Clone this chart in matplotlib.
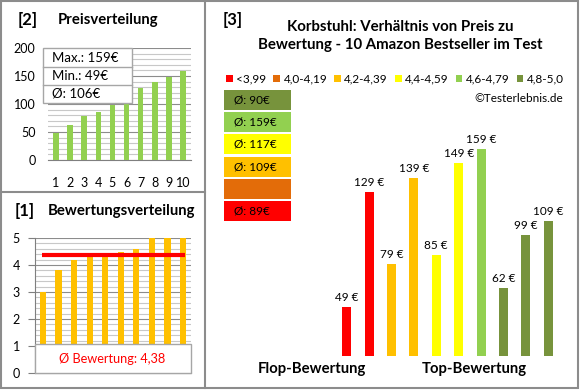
import matplotlib
matplotlib.use("Agg")
import matplotlib.pyplot as plt
from matplotlib.patches import Rectangle
from matplotlib.lines import Line2D

plt.rcParams['font.family'] = ['Lato', 'DejaVu Sans']

# ── Data ─────────────────────────────────────────────────────────────────────
price_rank = [1, 2, 3, 4, 5, 6, 7, 8, 9, 10]
prices_sorted = [49, 62, 79, 85, 99, 109, 129, 139, 149, 159]
ratings_sorted = [3.0, 3.8, 4.2, 4.3, 4.4, 4.5, 4.6, 5.0, 5.0, 5.0]
rating_avg = 4.38
info_lines = ["Max.: 159€", "Min.: 49€", "Ø: 106€"]

prod_prices = [49, 129, 79, 139, 85, 149, 159, 62, 99, 109]
prod_colors = ['#FF0000', '#FF0000', '#FFC000', '#FFC000', '#FFFF00',
               '#FFFF00', '#92D050', '#77933C', '#77933C', '#77933C']

legend_labels = ['<3,99', '4,0-4,19', '4,2-4,39', '4,4-4,59', '4,6-4,79', '4,8-5,0']
legend_colors = ['#FF0000', '#E36C09', '#FFC000', '#FFFF00', '#92D050', '#77933C']

avg_labels = ['Ø: 90€', 'Ø: 159€', 'Ø: 117€', 'Ø: 109€', '', 'Ø: 89€']
avg_colors = ['#77933C', '#92D050', '#FFFF00', '#FFC000', '#E36C09', '#FF0000']

W, H = 580, 390
BORDER = '#8C8C8C'
GRID_MAJ = '#8C8C8C'
GRID_MIN = '#C8C8C8'

fig = plt.figure(figsize=(W / 100, H / 100), dpi=100)


def px_axes(x0, y0, x1, y1):
    """axes from pixel box (top-left origin)"""
    return fig.add_axes([x0 / W, 1 - y1 / H, (x1 - x0) / W, (y1 - y0) / H])


def fx(x):
    return x / W


def fy(y):
    return 1 - y / H


# ── Panel frames ─────────────────────────────────────────────────────────────
fig.add_artist(Rectangle((fx(1), fy(388)), fx(577), fy(1) - fy(388), fill=False,
                         ec=BORDER, lw=1.5, transform=fig.transFigure))
fig.add_artist(Line2D([fx(205), fx(205)], [fy(1), fy(388)], color=BORDER, lw=1.5))
fig.add_artist(Line2D([fx(1), fx(205)], [fy(192), fy(192)], color=BORDER, lw=1.5))

# ── [2] Preisverteilung ──────────────────────────────────────────────────────
ax1 = px_axes(48, 48, 191, 160)
ax1.bar(price_rank, prices_sorted, width=0.4, color='#92D050', zorder=3)
ax1.set_xlim(0.43, 10.57)
ax1.set_ylim(0, 200)
ax1.set_yticks(range(0, 201, 50))
ax1.set_yticks(range(0, 201, 10), minor=True)
ax1.set_xticks(price_rank)
ax1.grid(axis='y', which='major', color=GRID_MAJ, lw=0.8, zorder=0)
ax1.grid(axis='y', which='minor', color=GRID_MIN, lw=0.8, zorder=0)
for s in ['top', 'right', 'left']:
    ax1.spines[s].set_visible(False)
ax1.spines['bottom'].set_color('#7F7F7F')
ax1.tick_params(axis='both', which='both', length=0, labelsize=9)
ax1.tick_params(axis='y', pad=9)
ax1.tick_params(axis='x', pad=12)

fig.text(fx(18), fy(20), '[2]', fontsize=12, fontweight='bold', va='center')
fig.text(fx(58), fy(20), 'Preisverteilung', fontsize=10.7, fontweight='bold', va='center')

# info box
fig.add_artist(Rectangle((fx(43), fy(103)), fx(132) - fx(43), fy(48) - fy(103),
                         fc='white', ec='#A6A6A6', lw=1, transform=fig.transFigure, zorder=5))
for yy in (67, 85):
    fig.add_artist(Line2D([fx(43), fx(132)], [fy(yy), fy(yy)], color='#A6A6A6', lw=1, zorder=6))
for i, t in enumerate(info_lines):
    fig.text(fx(52), fy(58 + i * 18), t, fontsize=9.5, va='center', zorder=7)

# ── [1] Bewertungsverteilung ─────────────────────────────────────────────────
ax2 = px_axes(35, 238, 191, 373)
ax2.bar(price_rank, ratings_sorted, width=0.4, color='#FFC000', zorder=3)
ax2.hlines(rating_avg, 0.95, 10.15, color='#FF0000', lw=3, zorder=4)
ax2.set_xlim(0.49, 10.51)
ax2.set_ylim(0, 5)
ax2.set_yticks(range(0, 6))
ax2.set_yticks([i * 0.2 for i in range(26)], minor=True)
ax2.set_xticks([])
ax2.grid(axis='y', which='major', color=GRID_MAJ, lw=0.8, zorder=0)
ax2.grid(axis='y', which='minor', color=GRID_MIN, lw=0.8, zorder=0)
for s in ['top', 'right']:
    ax2.spines[s].set_visible(False)
ax2.spines['bottom'].set_color('#7F7F7F')
ax2.spines['left'].set_color('#7F7F7F')
ax2.tick_params(axis='y', which='major', length=5, color='#7F7F7F', labelsize=9, pad=6)
ax2.tick_params(axis='y', which='minor', length=0)

fig.text(fx(15), fy(211), '[1]', fontsize=12, fontweight='bold', va='center')
fig.text(fx(48), fy(211), 'Bewertungsverteilung', fontsize=10.7, fontweight='bold', va='center')

fig.add_artist(Rectangle((fx(35), fy(373)), fx(191) - fx(35), fy(344) - fy(373),
                         fc='white', ec='#A6A6A6', lw=1, transform=fig.transFigure, zorder=5))
fig.text(fx(112), fy(359), 'Ø Bewertung: ' + f'{rating_avg:.2f}'.replace('.', ','),
         fontsize=9.2, color='#FF0000', ha='center', va='center', zorder=7)

# ── [3] Preis vs Bewertung ───────────────────────────────────────────────────
fig.text(fx(223), fy(20), '[3]', fontsize=12, fontweight='bold', va='center')
fig.text(fx(400), fy(36), 'Korbstuhl: Verhältnis von Preis zu\nBewertung - 10 Amazon Bestseller im Test',
         fontsize=10.8, fontweight='bold', ha='center', va='center', linespacing=1.35)

handles = [Rectangle((0, 0), 1, 1, fc=c, ec='none') for c in legend_colors]
fig.legend(handles, legend_labels, loc='center', bbox_to_anchor=(fx(395), fy(79)),
           ncol=6, frameon=False, fontsize=8.5, handlelength=0.55, handleheight=0.55,
           handletextpad=0.3, columnspacing=0.6, borderaxespad=0, borderpad=0)

fig.text(fx(563), fy(98), '©Testerlebnis.de', fontsize=8.5, ha='right', va='center')

for i, (lab, c) in enumerate(zip(avg_labels, avg_colors)):
    top = 90 + i * 22.2
    fig.add_artist(Rectangle((fx(224), fy(top + 20)), fx(291) - fx(224), fy(top) - fy(top + 20),
                             fc=c, ec='none', transform=fig.transFigure))
    if lab:
        fig.text(fx(234), fy(top + 10), lab, fontsize=8.5, va='center')

ax3 = px_axes(330, 140, 565, 356)
xs = list(range(1, len(prod_prices) + 1))
ax3.bar(xs, prod_prices, width=0.4, color=prod_colors)
for x, v in zip(xs, prod_prices):
    ax3.annotate(f'{v} €', (x, v), xytext=(0, 3), textcoords='offset points',
                 ha='center', va='bottom', fontsize=8.5)
ax3.set_xlim(0.254, 10.745)
ax3.set_ylim(14.6, 165.3)
ax3.axis('off')

fig.text(fx(312), fy(369), 'Flop-Bewertung', fontsize=10.7, fontweight='bold', ha='center', va='center')
fig.text(fx(474), fy(369), 'Top-Bewertung', fontsize=10.7, fontweight='bold', ha='center', va='center')

fig.savefig('out.png', dpi=100)
